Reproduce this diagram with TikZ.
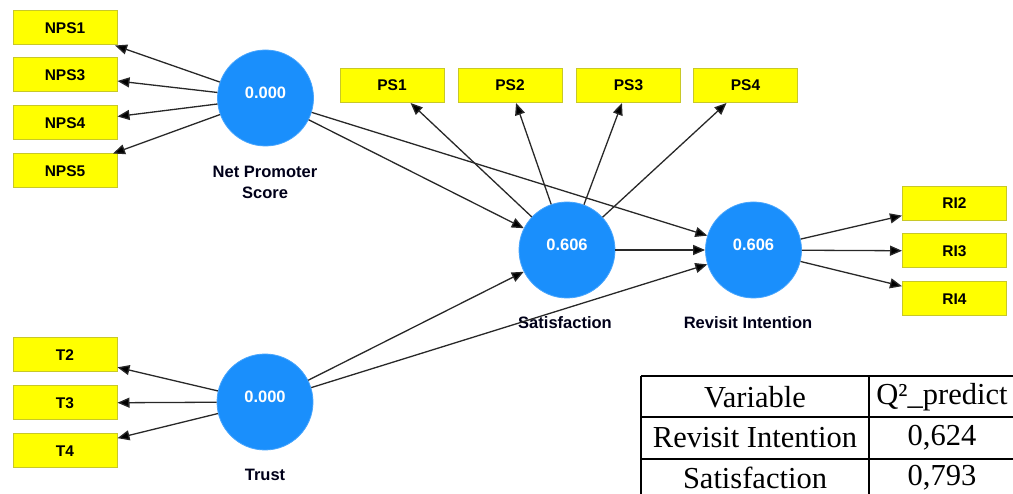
\documentclass[tikz,border=0pt]{standalone}
\usepackage{fontspec}
\setmainfont{Liberation Serif}
\newfontfamily\diagfont{Liberation Sans}
\usetikzlibrary{arrows.meta}
\definecolor{indfill}{RGB}{255,255,0}
\definecolor{indline}{RGB}{200,200,40}
\definecolor{latfill}{RGB}{26,143,252}
\definecolor{pathcol}{RGB}{40,40,40}
\tikzset{
  ind/.style={rectangle, draw=indline, line width=1pt, fill=indfill, minimum width=104pt, minimum height=34pt, inner sep=0pt, font=\diagfont\bfseries\fontsize{15.5}{16}\selectfont, text=black},
  lat/.style={circle, fill=latfill, draw=latfill!80!white, line width=0.8pt, minimum size=96pt, inner sep=0pt},
  val/.style={text=white, font=\diagfont\bfseries\fontsize{16.5}{17}\selectfont},
  latname/.style={font=\diagfont\bfseries\fontsize{16.5}{21}\selectfont, align=center, text=black!90!blue},
  arr/.style={draw=pathcol, line width=1.3pt, -{Triangle[length=12pt,width=10pt,fill=black]}},
  tab/.style={font=\fontsize{30.5}{32}\selectfont, inner sep=0pt},
  rule/.style={line width=1.4pt, black}
}
\begin{document}
\begin{tikzpicture}[x=1pt,y=-1pt]
\useasboundingbox (0,0) rectangle (1013,494);
% latent variables
\node[lat] (nps) at (265.5,98) {};
\node[val] (npsv) at (265.5,93) {0.000};
\node[lat] (sat) at (567,250) {};
\node[val] (satv) at (567,245) {0.606};
\node[lat] (ri) at (753.5,250) {};
\node[val] (riv) at (753.5,245) {0.606};
\node[lat] (tr) at (265,402) {};
\node[val] (trv) at (265,397) {0.000};
% names
\node[latname] (npsn) at (265,182) {Net Promoter\\Score};
\node[latname] (satn) at (565,323) {Satisfaction};
\node[latname] (rin) at (748,323) {Revisit Intention};
\node[latname] (trn) at (265,475) {Trust};
% indicators
\node[ind] (nps1) at (65,28) {NPS1};
\node[ind] (nps3) at (65,75) {NPS3};
\node[ind] (nps4) at (65,123) {NPS4};
\node[ind] (nps5) at (65,171) {NPS5};
\node[ind] (ps1) at (392,85.5) {PS1};
\node[ind] (ps2) at (510,85.5) {PS2};
\node[ind] (ps3) at (628.5,85.5) {PS3};
\node[ind] (ps4) at (745.5,85.5) {PS4};
\node[ind] (ri2) at (954.5,203.5) {RI2};
\node[ind] (ri3) at (954.5,251) {RI3};
\node[ind] (ri4) at (954.5,299) {RI4};
\node[ind] (t2) at (65,355) {T2};
\node[ind] (t3) at (65,403) {T3};
\node[ind] (t4) at (65,451) {T4};
% outer loadings
\foreach \b in {nps1,nps3,nps4,nps5} \draw[arr] (nps) -- (\b);
\foreach \b in {ps1,ps2,ps3,ps4} \draw[arr] (sat) -- (\b);
\foreach \b in {ri2,ri3,ri4} \draw[arr] (ri) -- (\b);
\foreach \b in {t2,t3,t4} \draw[arr] (tr) -- (\b);
% structural paths
\draw[arr] (nps) -- (sat);
\draw[arr] (nps) -- (ri);
\draw[arr] (tr) -- (sat);
\draw[arr] (tr) -- (ri);
\draw[arr] (sat) -- (ri);
% table
\coordinate (tl) at (641,376);
\coordinate (tr1) at (1013,376);
\coordinate (r1l) at (641,417);
\coordinate (r1r) at (1013,417);
\coordinate (r2l) at (641,459);
\coordinate (r2r) at (1013,459);
\coordinate (lb) at (641,494);
\coordinate (mt) at (869,376);
\coordinate (mb) at (869,494);
\draw[rule] (tl) -- (tr1);
\draw[rule] (r1l) -- (r1r);
\draw[rule] (r2l) -- (r2r);
\draw[rule] (tl) -- (lb);
\draw[rule] (mt) -- (mb);
\node[tab] (h1) at (755,397) {Variable};
\node[tab] (h2) at (942,397) {Q²\_predict};
\node[tab] (c11) at (755,438) {Revisit Intention};
\node[tab] (c12) at (942,438) {0,624};
\node[tab] (c21) at (755,477.5) {Satisfaction};
\node[tab] (c22) at (942,477.5) {0,793};
\end{tikzpicture}
\end{document}
